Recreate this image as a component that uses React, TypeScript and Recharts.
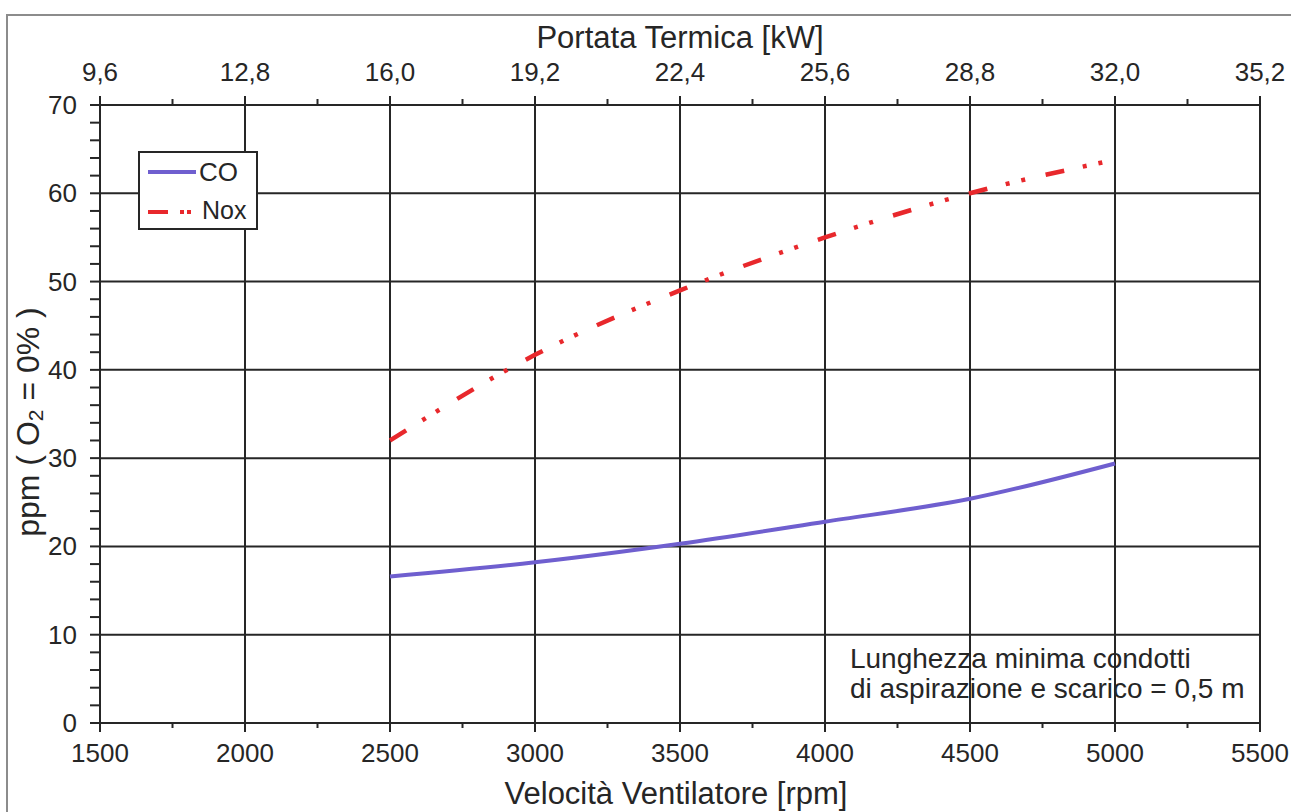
import React from "react"
import { LineChart, Line, XAxis, YAxis, ReferenceLine, ReferenceArea, Legend } from "recharts"

// fan speed (rpm) and emissions (ppm, O2 = 0%)
const rpm = [2500, 3000, 3500, 4000, 4500, 5000]
const coPpm = [16.6, 18.2, 20.3, 22.8, 25.4, 29.4]
const noxPpm = [32.0, 41.7, 49.0, 55.0, 60.0, 63.8]

const rpmTicks = [1500, 1750, 2000, 2250, 2500, 2750, 3000, 3250, 3500, 3750, 4000, 4250, 4500, 4750, 5000, 5250, 5500]
const rpmMajor = [1500, 2000, 2500, 3000, 3500, 4000, 4500, 5000, 5500]
const kwLabels = ["9,6", "12,8", "16,0", "19,2", "22,4", "25,6", "28,8", "32,0", "35,2"]
const ppmTicks = [0, 2, 4, 6, 8, 10, 12, 14, 16, 18, 20, 22, 24, 26, 28, 30, 32, 34, 36, 38, 40, 42, 44, 46, 48, 50, 52, 54, 56, 58, 60, 62, 64, 66, 68, 70]
const ppmMajor = [0, 10, 20, 30, 40, 50, 60, 70]

const data = rpm.map((r, i) => ({ rpm: r, co: coPpm[i], nox: noxPpm[i] }))

const INK = "#262626"
const FONT = "'Liberation Sans', Arial, sans-serif"
const CO_COLOR = "#6f5fcf"
const NOX_COLOR = "#e8282c"

function BottomTick({ x, y, payload }: any) {
  const major = rpmMajor.indexOf(payload.value) >= 0
  return (
    <g>
      <line x1={x} x2={x} y1={y} y2={y + (major ? 9 : 5)} stroke={INK} strokeWidth={2} />
      {major && (
        <text x={x} y={y + 30} textAnchor="middle" dominantBaseline="central" fontSize={26} fontFamily={FONT} fill={INK}>
          {payload.value}
        </text>
      )}
    </g>
  )
}

function TopTick({ x, y, payload }: any) {
  const idx = rpmMajor.indexOf(payload.value)
  const major = idx >= 0
  return (
    <g>
      <line x1={x} x2={x} y1={y} y2={y - (major ? 9 : 6)} stroke={INK} strokeWidth={2} />
      {major && (
        <text x={x} y={y - 33} textAnchor="middle" dominantBaseline="central" fontSize={26} fontFamily={FONT} fill={INK}>
          {kwLabels[idx]}
        </text>
      )}
    </g>
  )
}

function LeftTick({ x, y, payload }: any) {
  const major = ppmMajor.indexOf(payload.value) >= 0
  return (
    <g>
      <line x1={x} x2={x - 10} y1={y} y2={y} stroke={INK} strokeWidth={2} />
      {major && (
        <text x={x - 23} y={y} textAnchor="end" dominantBaseline="central" fontSize={26} fontFamily={FONT} fill={INK}>
          {payload.value}
        </text>
      )}
    </g>
  )
}

function LegendBox() {
  return (
    <svg width={120} height={79} style={{ display: "block" }}>
      <rect x={1} y={1} width={118} height={77} fill="#fff" stroke={INK} strokeWidth={2} />
      <line x1={10} x2={58} y1={21} y2={21} stroke={CO_COLOR} strokeWidth={4} />
      <text x={61} y={21} dominantBaseline="central" fontSize={26} fontFamily={FONT} fill={INK}>CO</text>
      <line x1={10} x2={30} y1={61} y2={61} stroke={NOX_COLOR} strokeWidth={4} />
      <line x1={42} x2={46} y1={61} y2={61} stroke={NOX_COLOR} strokeWidth={4} />
      <line x1={49} x2={53} y1={61} y2={61} stroke={NOX_COLOR} strokeWidth={4} />
      <text x={64} y={59} dominantBaseline="central" fontSize={25} fontFamily={FONT} fill={INK}>Nox</text>
    </svg>
  )
}

export default function App() {
  return (
    <div style={{ position: "fixed", left: 0, top: 0, width: 1291, height: 812, overflow: "hidden", background: "#fff", fontFamily: FONT }}>
      <div style={{ position: "absolute", left: 6, top: 14, width: 1300, height: 820, border: "2px solid #8c8c8c" }} />
      <LineChart width={1291} height={812} data={data} margin={{ top: 0, right: 31, bottom: 0, left: 0 }}>
        <XAxis
          type="number"
          dataKey="rpm"
          domain={[1500, 5500]}
          ticks={rpmTicks}
          interval={0}
          height={89}
          tickSize={0}
          tickMargin={0}
          tick={<BottomTick />}
          tickLine={false}
          axisLine={{ stroke: INK, strokeWidth: 2 }}
          label={{
            content: ({ viewBox }: any) => (
              <text x={viewBox.x + viewBox.width / 2 - 4} y={viewBox.y + 70} textAnchor="middle" dominantBaseline="central" fontSize={31} fontFamily={FONT} fill={INK}>
                Velocità Ventilatore [rpm]
              </text>
            ),
          }}
        />
        <XAxis
          xAxisId="top"
          orientation="top"
          type="number"
          dataKey="rpm"
          domain={[1500, 5500]}
          ticks={rpmTicks}
          interval={0}
          height={105}
          tickSize={0}
          tickMargin={0}
          tick={<TopTick />}
          tickLine={false}
          axisLine={{ stroke: INK, strokeWidth: 2 }}
          label={{
            content: ({ viewBox }: any) => (
              <text x={viewBox.x + viewBox.width / 2} y={viewBox.y + 37} textAnchor="middle" dominantBaseline="central" fontSize={31} fontFamily={FONT} fill={INK}>
                Portata Termica [kW]
              </text>
            ),
          }}
        />
        <YAxis
          type="number"
          domain={[0, 70]}
          ticks={ppmTicks}
          interval={0}
          width={100}
          tickSize={0}
          tickMargin={0}
          tick={<LeftTick />}
          tickLine={false}
          axisLine={{ stroke: INK, strokeWidth: 2 }}
          label={{
            content: ({ viewBox }: any) => {
              const cx = viewBox.x + 28
              const cy = viewBox.y + viewBox.height / 2 + 8
              return (
                <text x={cx} y={cy} transform={`rotate(-90, ${cx}, ${cy})`} textAnchor="middle" dominantBaseline="central" fontSize={32} fontFamily={FONT} fill={INK}>
                  ppm ( O
                  <tspan fontSize={21} dy={7}>2</tspan>
                  <tspan dy={-7}> = 0% )</tspan>
                </text>
              )
            },
          }}
        />
        {rpmMajor.slice(1).map((v) => (
          <ReferenceLine key={`vx-${v}`} x={v} stroke={INK} strokeWidth={2} />
        ))}
        {ppmMajor.slice(1, -1).map((v) => (
          <ReferenceLine key={`hy-${v}`} y={v} stroke={INK} strokeWidth={2} />
        ))}
        <ReferenceArea
          x1={4017}
          x2={5483}
          y1={1.7}
          y2={9.9}
          fill="#fff"
          fillOpacity={1}
          stroke="none"
          label={{
            content: ({ viewBox }: any) => (
              <text x={viewBox.x + 20} fontSize={28} fontFamily={FONT} fill={INK}>
                <tspan x={viewBox.x + 20} y={viewBox.y + 32}>Lunghezza minima condotti</tspan>
                <tspan x={viewBox.x + 20} y={viewBox.y + 62}>di aspirazione e scarico = 0,5 m</tspan>
              </text>
            ),
          }}
        />
        <Legend
          layout="vertical"
          align="center"
          verticalAlign="middle"
          wrapperStyle={{ left: 138, top: 151, width: 120, height: 79 }}
          content={() => <LegendBox />}
        />
        <Line
          type="monotone"
          dataKey="co"
          name="CO"
          stroke={CO_COLOR}
          strokeWidth={4}
          dot={false}
          activeDot={false}
          isAnimationActive={false}
        />
        <Line
          type="monotone"
          dataKey="nox"
          name="Nox"
          stroke={NOX_COLOR}
          strokeWidth={4.5}
          strokeDasharray="19 19 4 12 4 21"
          dot={false}
          activeDot={false}
          isAnimationActive={false}
        />
      </LineChart>
    </div>
  )
}
